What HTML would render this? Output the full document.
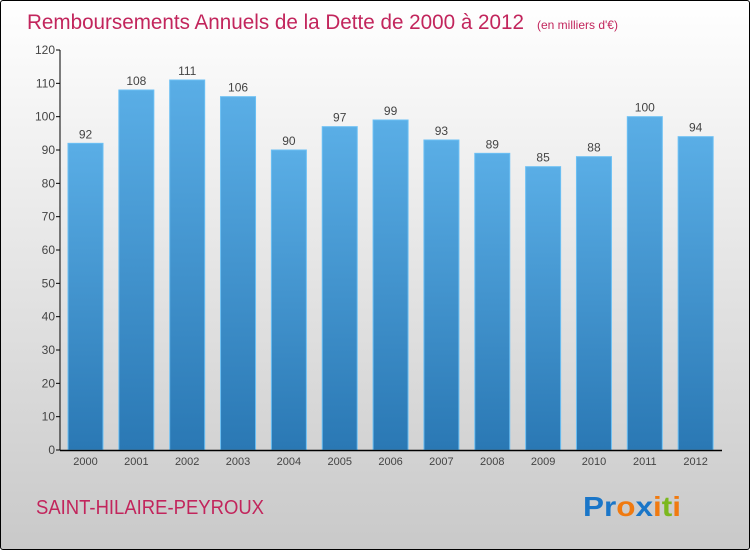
<!DOCTYPE html>
<html><head><meta charset="utf-8"><style>
html,body{margin:0;padding:0}
body{width:750px;height:550px;overflow:hidden;font-family:"Liberation Sans",sans-serif}
#wrap{position:absolute;left:0;top:0;width:748px;height:548px;border:1px solid #000;border-radius:3px;background:linear-gradient(#ffffff,#c9c9c9)}
</style></head><body>
<div id="wrap"></div>
<svg id="chart" width="750" height="550" style="position:absolute;left:0;top:0">
<defs><linearGradient id="bg" x1="0" y1="0" x2="0" y2="1"><stop offset="0" stop-color="#5aaee6"/><stop offset="1" stop-color="#2a78b4"/></linearGradient></defs>
<text x="27" y="29" font-size="21" fill="#c2255c"><tspan textLength="497" lengthAdjust="spacingAndGlyphs">Remboursements Annuels de la Dette de 2000 à 2012</tspan><tspan font-size="12" x="537">(en milliers d'€)</tspan></text>
<g id="grid"></g><g id="bars"></g><g id="axes"></g>
<text x="36" y="514" font-size="20" fill="#c2255c" textLength="228" lengthAdjust="spacingAndGlyphs">SAINT-HILAIRE-PEYROUX</text>
<text x="583" y="516" font-size="28" font-weight="bold" textLength="98" lengthAdjust="spacingAndGlyphs"><tspan fill="#1a76c8">Pr</tspan><tspan fill="#f07a10">o</tspan><tspan fill="#1a76c8">x</tspan><tspan fill="#f07a10">i</tspan><tspan fill="#7bb81e">t</tspan><tspan fill="#f07a10">i</tspan></text>
</svg>
<script>
const categories=["2000","2001","2002","2003","2004","2005","2006","2007","2008","2009","2010","2011","2012"];
const values=[92,108,111,106,90,97,99,93,89,85,88,100,94];
const yTicks=[0,10,20,30,40,50,60,70,80,90,100,110,120];
const NS="http://www.w3.org/2000/svg";
const x0=60,x1=722,yTop=50,yBot=450,yMax=120;
const band=(x1-x0-1)/categories.length;
const bw=35;
function y(v){return yBot-(v/yMax)*(yBot-yTop);}
function xb(i){return x0+8+i*band;}
function mk(tag,attrs,parent){const e=document.createElementNS(NS,tag);for(const k in attrs)e.setAttribute(k,attrs[k]);parent.appendChild(e);return e;}
const g=document.getElementById('grid'),b=document.getElementById('bars'),a=document.getElementById('axes');
yTicks.forEach(t=>{
  const tk=mk('line',{x1:x0-4,x2:x0,y1:y(t),y2:y(t),stroke:'#000'},a);
  
  
  const tx=mk('text',{x:x0-5,y:y(t)+4,'text-anchor':'end','font-size':12,fill:'#444'},a);
  tx.textContent=t;
  
  
});
values.forEach((v,i)=>{
  const r=mk('rect',{x:xb(i),y:y(v),width:bw,height:yBot-y(v),fill:'url(#bg)',stroke:'#6cc0f4','stroke-width':1},b);
  
  
  const t=mk('text',{x:xb(i)+bw/2,y:y(v)-5,'text-anchor':'middle','font-size':12,fill:'#444'},b);
  t.textContent=v;
  
  
  const c=mk('text',{x:xb(i)+bw/2,y:465,'text-anchor':'middle','font-size':11,fill:'#444'},a);
  c.textContent=categories[i];
  
  
});
const ya=mk('line',{x1:x0,x2:x0,y1:yTop,y2:yBot,stroke:'#000','stroke-width':1},a);


const xa=mk('line',{x1:x0,x2:x1,y1:yBot+0.5,y2:yBot+0.5,stroke:'#000','stroke-width':1.5},a);


</script>
</body></html>
